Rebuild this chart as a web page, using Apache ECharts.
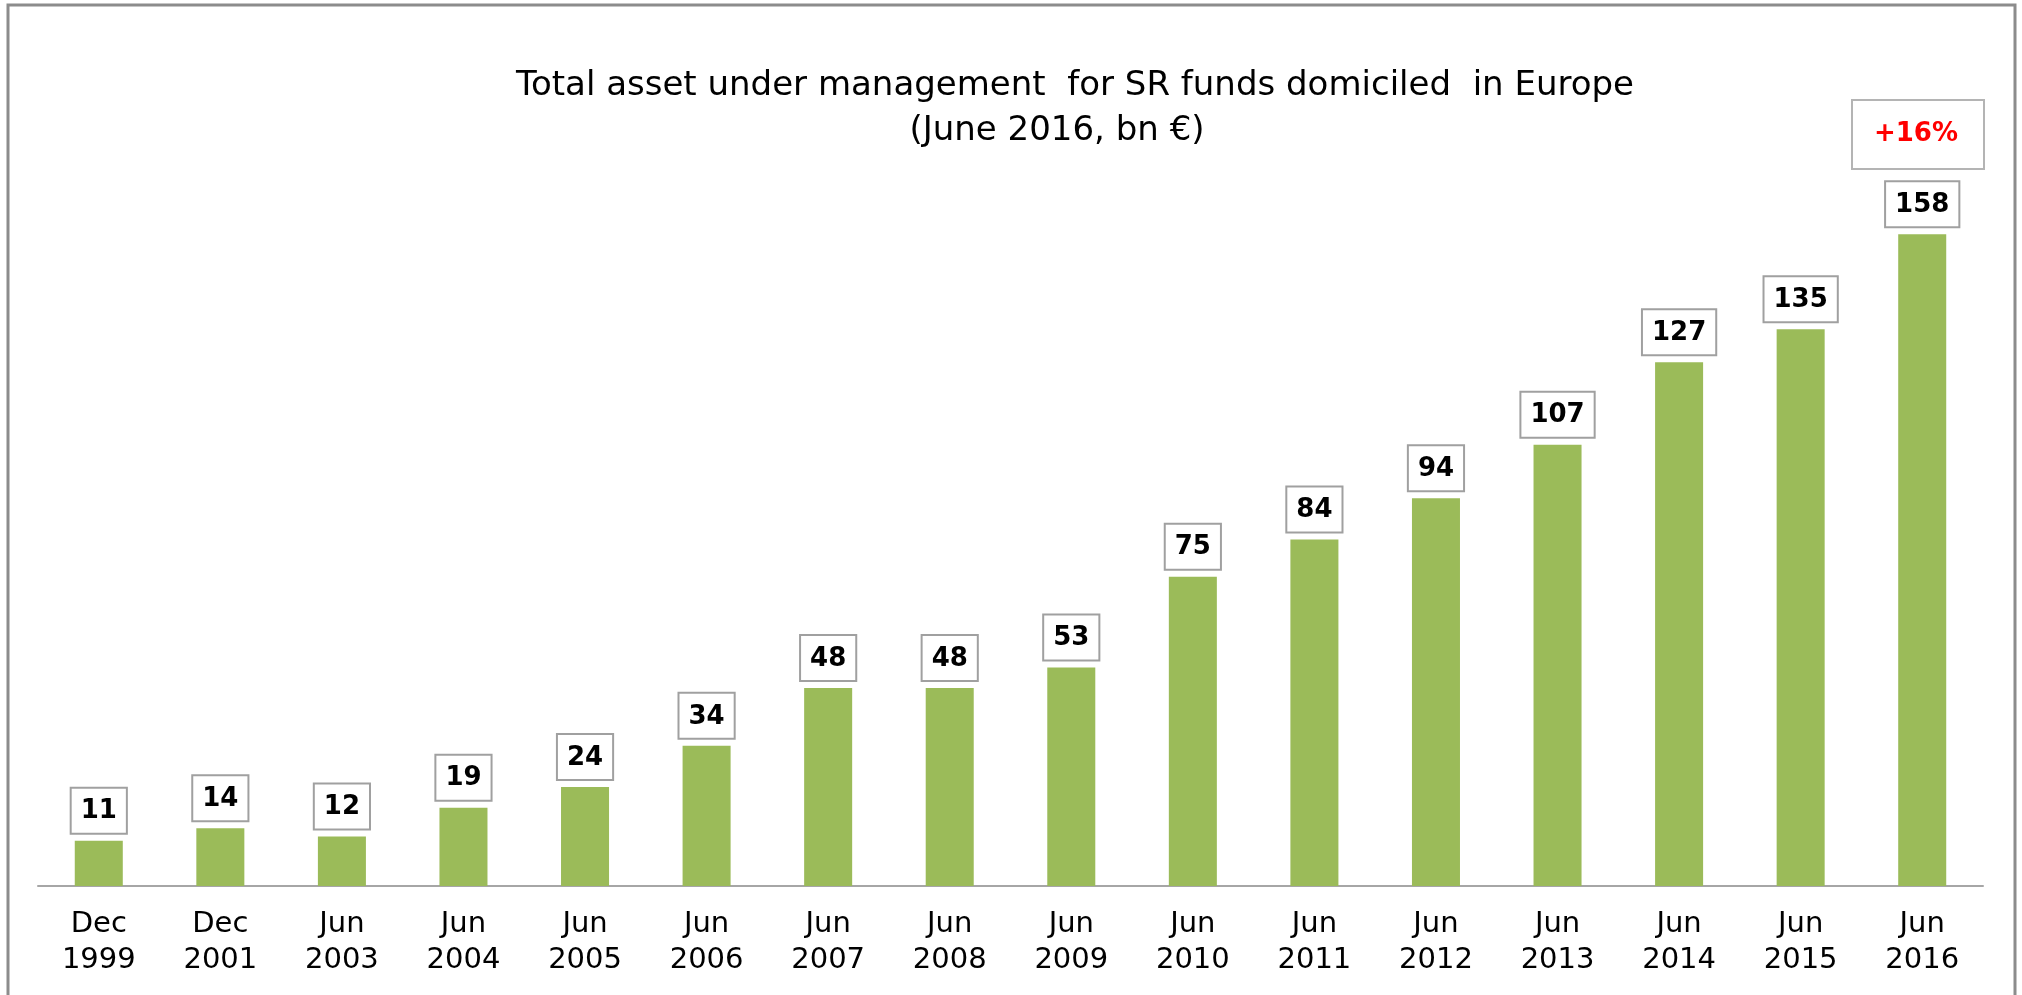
<!DOCTYPE html>
<html>
<head>
<meta charset="utf-8">
<script src="https://cdn.jsdelivr.net/npm/echarts@6/dist/echarts.min.js"></script>
<style>
  html, body { margin: 0; padding: 0; background: #fff; }
  #chart { width: 2022px; height: 995px; }
</style>
</head>
<body>
<div id="chart"></div>
<script>
const periods = ['Dec\n1999', 'Dec\n2001', 'Jun\n2003', 'Jun\n2004', 'Jun\n2005', 'Jun\n2006', 'Jun\n2007', 'Jun\n2008',
  'Jun\n2009', 'Jun\n2010', 'Jun\n2011', 'Jun\n2012', 'Jun\n2013', 'Jun\n2014', 'Jun\n2015', 'Jun\n2016']
const assets = [11, 14, 12, 19, 24, 34, 48, 48, 53, 75, 84, 94, 107, 127, 135, 158]
const growthLabel = '+16%'

const font = 'DejaVu Sans'
const chart = echarts.init(document.getElementById('chart'))

chart.setOption({
  animation: false,
  backgroundColor: '#fff',
  title: [
    {
      text: 'Total asset under management  for SR funds domiciled  in Europe',
      left: 1070,
      top: 64,
      textAlign: 'center',
      textStyle: { fontFamily: font, fontSize: 34, fontWeight: 'normal', color: '#000' },
    },
    {
      text: '(June 2016, bn €)',
      left: 1052,
      top: 109,
      textAlign: 'center',
      textStyle: { fontFamily: font, fontSize: 34, fontWeight: 'normal', color: '#000' },
    },
  ],
  grid: { left: 38, right: 39, top: 61, bottom: 109 },
  xAxis: {
    type: 'category',
    data: periods,
    axisLine: { lineStyle: { color: '#a6a6a6', width: 2 } },
    axisTick: { show: false },
    axisLabel: {
      fontFamily: font,
      fontSize: 29,
      lineHeight: 36,
      color: '#000',
      margin: 20,
      interval: 0,
    },
  },
  yAxis: { type: 'value', min: 0, max: 200, show: false, splitLine: { show: false } },
  series: [
    {
      type: 'bar',
      data: assets,
      barWidth: '39.5%',
      itemStyle: { color: '#9bbb59' },
      label: {
        show: true,
        position: 'top',
        distance: 8,
        fontFamily: font,
        fontWeight: 'bold',
        fontSize: 26,
        lineHeight: 26,
        color: '#000',
        backgroundColor: '#fff',
        borderColor: '#a0a0a0',
        borderWidth: 2,
        padding: [10, 9, 8, 9],
      },
    },
  ],
  graphic: [
    {
      type: 'rect',
      shape: { x: 8, y: 5, width: 2007, height: 1100 },
      style: { fill: 'none', stroke: '#8c8c8c', lineWidth: 3 },
      silent: true,
    },
    {
      type: 'rect',
      shape: { x: 1852, y: 100, width: 132, height: 69 },
      style: { fill: '#fff', stroke: '#b4b4b4', lineWidth: 2 },
    },
    {
      type: 'text',
      x: 1916,
      y: 134.5,
      style: {
        text: growthLabel,
        fontFamily: font,
        fontWeight: 'bold',
        fontSize: 26,
        fill: '#ff0000',
        align: 'center',
        verticalAlign: 'middle',
      },
    },
  ],
})
</script>
</body>
</html>
